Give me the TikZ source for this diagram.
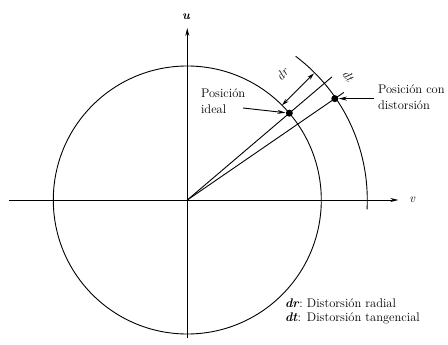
\documentclass[tikz,border=0pt]{standalone}
\usepackage{amsmath, amssymb}
\usepackage{tikz}
\usetikzlibrary{arrows.meta, positioning}

\begin{document}
\begin{tikzpicture}[x=1pt, y=1pt, line width=0.9pt,
    font=\fontsize{12.5}{16}\selectfont,
    tip/.style={-{Stealth[length=8pt, width=4pt]}},
    twotip/.style={{Stealth[length=7pt, width=4pt]}-{Stealth[length=7pt, width=4pt]}},
    pt/.style={circle, fill=black, inner sep=0pt, minimum size=7pt}]
    \useasboundingbox (-187.3,-145) rectangle (260.7,200);

    % Origin, axis ends and the two positions
    \coordinate (O) at (0,0);
    \coordinate (vL) at (-178,0);
    \coordinate (vR) at (211,0);
    \coordinate (uB) at (0,-138);
    \coordinate (uT) at (0,172);
    \coordinate (I) at (40.4:134);
    \coordinate (D) at (34.5:179);
    \coordinate (Iend) at (40.4:190);
    \coordinate (Dend) at (34.5:190);
    \coordinate (drA) at (45:134);
    \coordinate (drB) at (45:179);

    % Axes
    \draw[tip] (vL) -- (vR);
    \draw[tip] (uB) -- (uT);
    \node (ulab) at (-1,183) {\textbf{\textit{u}}};
    \node (vlab) at (225,0) {\textit{v}};

    % Ideal circle and distorted arc
    \draw (O) circle (134);
    \draw (-3:180) arc (-3:53:180);

    % Radial lines through both positions
    \draw (O) -- (Iend);
    \draw (O) -- (Dend);
    \node[pt] (ideal) at (I) {};
    \node[pt] (dist) at (D) {};

    % Radial and tangential distortion marks
    \draw[twotip] (drA) -- (drB);
    \node[rotate=45, inner sep=1pt] (drlab) at (53:158) {\textit{dr}};
    \node[rotate=-52, inner sep=1pt] (dtlab) at (37.5:203) {\textit{dt}};

    % Labels with arrows
    \node[align=left, anchor=west] (lideal) at (10,99) {Posición\\ideal};
    \node[align=left, anchor=west] (ldist) at (187,103) {Posición con\\distorsión};
    \draw[tip] (55.7,92) -- (ideal);
    \draw[tip] (ldist.west |- dist) -- (dist);

    % Legend
    \node[anchor=west] (legend) at (94,-111) {%
        \begin{tabular}{@{}l@{\ }l@{}}
            \textbf{\textit{dr}}: & Distorsión radial\\[-2pt]
            \textbf{\textit{dt}}: & Distorsión tangencial
        \end{tabular}};
\end{tikzpicture}
\end{document}
